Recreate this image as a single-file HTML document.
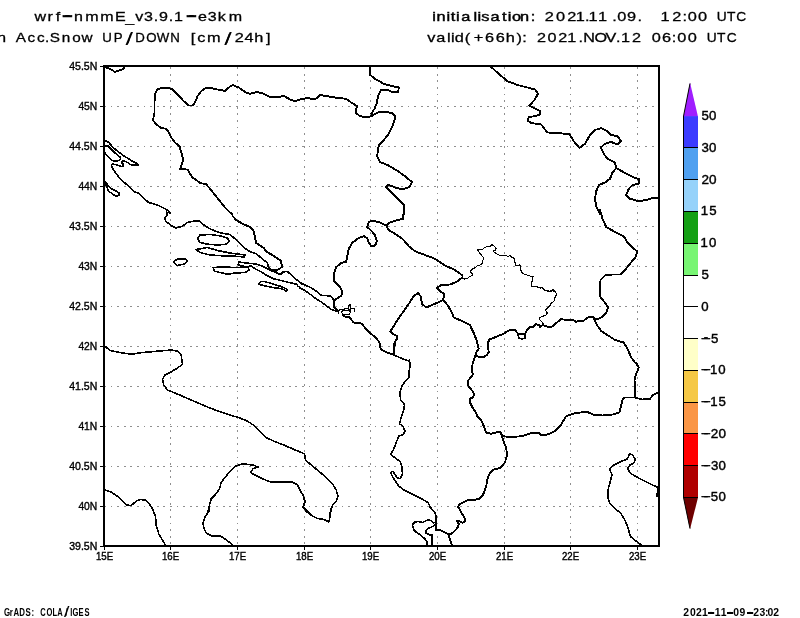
<!DOCTYPE html><html><head><meta charset="utf-8"><title>GrADS</title>
<style>html,body{margin:0;padding:0;background:#fff}svg{display:block}text{font-family:"Liberation Sans","DejaVu Sans",sans-serif;fill:#000}</style></head><body>
<svg width="800" height="618" viewBox="0 0 800 618">
<rect width="800" height="618" fill="#fff"/>
<g stroke="#8f8f8f" stroke-width="1" stroke-dasharray="1.7 4.9" fill="none" shape-rendering="crispEdges">
<line x1="170.5" y1="66.0" x2="170.5" y2="546.0" stroke-dashoffset="-1.2"/>
<line x1="237.5" y1="66.0" x2="237.5" y2="546.0" stroke-dashoffset="-1.2"/>
<line x1="304.5" y1="66.0" x2="304.5" y2="546.0" stroke-dashoffset="-1.2"/>
<line x1="370.5" y1="66.0" x2="370.5" y2="546.0" stroke-dashoffset="-1.2"/>
<line x1="437.5" y1="66.0" x2="437.5" y2="546.0" stroke-dashoffset="-1.2"/>
<line x1="504.5" y1="66.0" x2="504.5" y2="546.0" stroke-dashoffset="-1.2"/>
<line x1="570.5" y1="66.0" x2="570.5" y2="546.0" stroke-dashoffset="-1.2"/>
<line x1="637.5" y1="66.0" x2="637.5" y2="546.0" stroke-dashoffset="-1.2"/>
<line x1="104.0" y1="106.5" x2="659.0" y2="106.5"/>
<line x1="104.0" y1="146.5" x2="659.0" y2="146.5"/>
<line x1="104.0" y1="186.5" x2="659.0" y2="186.5"/>
<line x1="104.0" y1="226.5" x2="659.0" y2="226.5"/>
<line x1="104.0" y1="266.5" x2="659.0" y2="266.5"/>
<line x1="104.0" y1="306.5" x2="659.0" y2="306.5"/>
<line x1="104.0" y1="346.5" x2="659.0" y2="346.5"/>
<line x1="104.0" y1="386.5" x2="659.0" y2="386.5"/>
<line x1="104.0" y1="426.5" x2="659.0" y2="426.5"/>
<line x1="104.0" y1="466.5" x2="659.0" y2="466.5"/>
<line x1="104.0" y1="506.5" x2="659.0" y2="506.5"/>
</g>
<clipPath id="c"><rect x="104.0" y="66.0" width="555.0" height="480.0"/></clipPath>
<g clip-path="url(#c)" stroke="#000" fill="none" stroke-linejoin="round" stroke-linecap="round" shape-rendering="crispEdges">
<path d="M105.0 140.6 L108.8 142.5 L112.5 146.9 L117.5 151.2 L122.5 155.0 L127.5 158.1 L132.5 161.2 L137.5 163.8 L138.5 165.2 L131.2 165.0 L128.1 162.8 L125.0 161.2 L122.5 161.0 L121.5 162.8 L123.5 164.4 L123.1 166.5 L120.0 166.2 L117.5 165.0 L114.4 164.4 L112.5 163.8 L111.5 165.6 L112.5 168.1 L115.0 171.9 L118.1 176.2 L120.6 179.4 L125.0 183.1 L130.0 187.5 L135.0 192.2 L138.8 193.1 L142.5 196.9 L145.6 200.0 L148.8 202.5 L153.8 203.8 L157.5 205.0 L160.6 206.5 L167.5 210.0 L170.0 213.1" stroke-width="1.60"/>
<path d="M105.0 146.2 L107.5 145.6 L110.0 148.1 L113.8 151.9 L117.5 155.0 L120.2 157.2 L120.6 159.4 L118.8 160.6 L115.0 161.2 L112.5 160.6 L109.4 158.1 L106.2 155.0 L105.0 152.5" stroke-width="1.60"/>
<path d="M105.0 181.2 L106.2 183.1 L109.4 186.9 L112.5 189.4 L116.2 191.2 L119.4 193.1 L118.8 195.2 L116.2 196.2 L113.8 195.0 L111.9 193.1 L109.4 191.9 L107.8 189.8 L107.5 187.5 L106.0 185.6 L105.0 185.0" stroke-width="1.60"/>
<path d="M236.2 240.0 L240.0 243.8 L243.1 246.9 L246.9 249.8 L251.2 252.2 L256.2 253.8 L260.0 256.9 L263.8 260.0 L267.5 263.1 L268.1 266.9 L271.2 270.0 L275.0 271.2 L278.8 273.8 L281.2 274.4 L282.5 271.9 L287.5 271.5 L291.9 275.6 L296.9 280.0 L302.5 284.4 L300.0 282.5" stroke-width="1.60"/>
<path d="M255.6 240.0 L256.2 243.1 L260.0 245.6 L263.8 248.1 L266.2 251.5 L271.2 254.4 L276.2 257.5 L280.6 260.6 L281.5 263.8 L281.9 266.9 L278.8 269.4 L275.0 270.0 L271.9 270.0" stroke-width="1.90"/>
<path d="M277.5 273.1 L272.5 271.2 L267.5 268.8 L262.5 266.2 L257.5 264.4 L251.2 263.5 L245.0 262.9 L238.8 261.9 L238.1 264.4 L241.2 266.0 L246.2 266.5 L251.2 266.2 L255.0 268.8 L260.0 271.2 L265.0 274.4 L270.0 276.9 L273.8 278.8 L280.0 280.2 L287.5 282.2 L295.0 283.8 L296.9 284.0 L297.5 286.0 L300.0 287.2" stroke-width="1.60"/>
<path d="M258.8 283.8 L260.6 281.6 L265.0 281.6 L270.0 283.1 L275.0 284.8 L281.2 286.5 L286.2 288.8 L287.5 290.0 L286.2 291.0 L282.5 289.0 L277.5 288.1 L272.5 287.5 L266.2 286.2 L261.2 285.0 L258.8 283.8" stroke-width="1.60"/>
<path d="M300.0 282.5 L305.0 285.0 L311.2 287.8 L316.2 291.2 L321.9 295.6 L326.2 295.6 L330.6 296.0 L332.8 298.8 L334.0 300.6" stroke-width="1.60"/>
<path d="M300.0 288.1 L305.0 290.6 L311.2 295.0 L316.2 298.8 L321.2 301.9 L326.2 305.6 L331.2 309.4 L335.0 310.6 L337.5 311.2" stroke-width="1.60"/>
<path d="M333.8 280.0 L335.0 282.5 L338.8 285.6 L341.2 288.8 L342.5 292.5 L341.2 295.6 L337.5 298.1 L334.0 300.6 L334.0 304.4 L334.4 307.5 L337.5 310.6" stroke-width="1.90"/>
<path d="M337.5 310.6 L338.8 313.8 L338.1 311.2 L340.0 309.4 L345.0 309.0 L348.8 308.1 L348.1 306.2 L350.0 304.4 L350.6 306.9 L350.0 309.4 L347.5 310.6 L343.1 310.6 L341.2 311.9 L343.1 314.4 L346.2 315.0 L349.4 314.0 L350.6 311.9 L349.4 311.2 L350.6 310.0 L351.2 308.1 L354.4 308.1 L355.0 311.9" stroke-width="1.10"/>
<path d="M343.1 315.0 L345.6 316.9 L349.4 316.9 L351.2 319.4 L353.1 321.9 L355.0 323.1 L358.8 322.8 L361.9 323.8 L363.8 326.2 L366.2 329.4 L369.4 332.5 L372.5 335.0 L375.6 337.5 L378.1 340.6 L380.0 343.8 L380.0 347.5 L381.9 350.0 L386.2 352.2 L391.2 353.8 L393.8 355.0" stroke-width="1.90"/>
<path d="M400.0 316.2 L397.5 320.0 L394.4 325.0 L391.9 328.8 L390.0 331.5 L393.1 334.0 L396.9 336.2 L396.9 338.8 L395.0 341.9 L394.0 345.0 L393.5 350.0 L393.8 355.0" stroke-width="1.90"/>
<path d="M394.8 342.5 L394.0 355.0" stroke-width="1.90"/>
<path d="M471.2 328.8 L471.9 330.0 L474.4 334.4 L476.2 339.4 L477.5 343.8 L478.8 348.8 L476.9 351.2 L475.6 354.4 L474.4 358.1 L472.8 363.1 L471.9 367.5 L471.9 371.2 L473.1 374.4 L470.6 377.5 L468.1 380.6 L467.8 385.0 L470.0 388.1 L472.5 391.2 L474.0 394.4 L473.1 397.5 L470.0 398.5 L469.8 401.9 L471.2 405.0 L471.9 407.0" stroke-width="1.90"/>
<path d="M476.2 355.0 L478.8 357.2 L483.8 356.9 L486.9 355.0 L488.8 351.9 L488.1 348.8 L487.5 343.8 L489.4 339.4 L493.8 337.8 L498.8 335.6 L500.0 335.0" stroke-width="1.90"/>
<path d="M403.8 490.0 L410.0 493.1 L416.2 496.2 L422.5 499.4 L428.1 502.5 L430.0 506.9 L433.1 510.6 L435.6 513.8 L436.2 518.8 L436.0 523.8 L436.2 530.0" stroke-width="1.60"/>
<path d="M436.2 530.0 L440.0 530.0 L443.8 531.9 L448.1 534.0 L451.2 534.0 L455.0 530.6 L458.1 526.9 L458.8 523.8 L456.9 521.2 L458.8 520.6 L462.5 522.8 L465.0 521.2 L465.0 518.8 L462.5 514.4 L460.0 510.0 L458.1 506.9 L459.4 504.4 L463.8 501.9 L468.1 500.0 L472.5 500.2 L478.8 499.0 L482.5 495.6 L484.4 491.9 L484.8 490.0" stroke-width="1.90"/>
<path d="M448.1 534.0 L450.0 539.4 L451.9 545.0" stroke-width="1.90"/>
<path d="M433.8 522.8 L431.2 520.6 L428.1 519.8 L425.0 521.2 L422.5 522.5 L418.8 521.5 L415.0 521.9 L413.1 523.8 L412.5 526.2 L414.4 530.6 L417.5 533.1 L421.2 535.6 L425.0 538.8 L426.9 541.9 L427.2 545.0" stroke-width="1.60"/>
<path d="M435.0 525.0 L432.8 526.5 L428.8 528.1 L426.0 530.2 L426.2 533.1 L429.4 534.8 L432.2 535.2 L432.2 540.0 L432.0 545.0" stroke-width="1.60"/>
<path d="M462.5 277.5 L463.8 279.0 L466.9 278.8 L469.4 276.9 L472.5 275.2 L471.9 273.1 L470.0 271.9 L471.9 269.4 L475.0 267.8 L477.5 265.6 L480.6 264.8 L482.5 262.8 L483.1 259.4 L483.1 257.2 L481.2 255.0 L479.4 252.5 L477.5 250.0 L480.0 249.8 L483.1 249.0 L485.0 247.2 L488.1 246.5 L490.6 246.0 L491.9 244.4 L493.8 246.0 L496.2 248.1 L495.6 250.0 L493.8 250.2 L494.0 252.2 L496.9 253.8 L500.0 255.6 L503.1 255.6 L506.2 255.2 L507.5 256.9 L510.0 255.6 L511.9 257.5 L514.0 258.1 L514.8 261.9 L515.6 265.0 L517.8 265.6 L519.8 264.8 L520.6 268.1 L521.2 271.2 L523.1 273.8 L526.2 274.8 L530.0 276.0 L533.1 276.5 L532.5 280.0 L531.5 283.1 L531.0 286.0 L533.8 286.5 L537.5 286.9 L540.0 288.1 L542.5 287.5 L544.0 289.8 L547.5 290.6 L550.0 291.2 L553.1 289.8 L555.6 291.9 L556.5 294.4" stroke-width="1.10"/>
<path d="M543.8 290.0 L547.5 291.2 L550.0 291.9 L552.5 290.6 L555.6 291.9 L556.5 294.4 L555.0 297.5 L554.0 301.2 L551.2 303.1 L550.0 305.6 L547.5 308.1 L545.6 310.0 L547.2 313.1 L545.6 315.6 L542.5 316.2 L540.0 317.5 L539.8 320.0 L541.9 321.9 L543.1 323.8" stroke-width="1.10"/>
<path d="M593.0 317.0 L591.9 316.5 L587.5 317.8 L583.8 320.6 L580.0 320.6 L576.2 321.9 L572.5 319.8 L565.0 319.8 L561.0 319.0 L556.2 323.1 L552.5 326.5 L550.0 327.2 L546.9 326.5 L543.1 325.0 L540.0 326.9 L538.8 325.0 L535.6 324.0 L533.1 326.9 L530.0 327.2 L526.9 330.0 L525.0 333.8 L525.6 338.1 L521.9 338.8 L518.8 338.1 L518.1 333.8 L525.0 333.8 L518.1 333.8 L515.0 330.2 L511.2 329.8 L507.5 331.2 L503.8 333.8 L500.0 335.0" stroke-width="1.90"/>
<path d="M105.0 67.0 L111.2 69.5 L115.0 72.0 L118.8 70.5 L123.8 68.8 L124.2 66.2" stroke-width="1.90"/>
<path d="M300.0 99.5 L294.5 101.2 L290.0 99.5 L283.8 95.8 L278.8 97.0 L270.0 97.0 L263.8 93.8 L257.0 92.0 L250.0 93.8 L245.0 92.0 L238.8 87.5 L232.5 85.0 L228.8 87.5 L225.0 90.8 L217.5 89.5 L211.2 88.0 L205.5 88.0 L201.2 91.2 L197.5 96.2 L195.0 102.5 L192.5 105.5 L188.8 105.5 L183.8 101.2 L177.5 94.5 L172.5 89.5 L168.8 88.0 L161.2 87.8 L157.5 89.5 L155.0 93.8 L154.5 102.5 L154.5 112.5 L153.0 120.0 L155.5 123.8 L161.2 128.0 L166.2 128.8 L168.8 132.5 L171.2 137.5 L175.0 142.5 L179.5 146.2 L181.2 152.5 L183.2 158.8 L182.0 163.8 L180.0 169.2 L187.5 169.5 L190.0 173.8 L193.0 178.0 L196.2 180.0 L200.0 183.0 L206.2 184.2 L210.0 188.8 L215.0 195.0 L220.0 201.2 L225.0 207.5 L230.0 212.5 L232.0 214.0" stroke-width="1.90"/>
<path d="M300.0 99.5 L307.5 98.0 L315.0 99.5 L320.0 95.0 L327.5 96.2 L337.5 98.0 L346.2 98.8 L351.2 102.5 L357.0 106.2 L355.5 112.5 L360.0 116.2 L367.5 117.5 L371.2 116.2 L377.5 112.5 L385.0 112.0 L392.5 113.0 L395.5 117.0 L392.5 126.2 L388.8 133.8 L383.8 140.0 L378.8 145.0 L378.0 151.2 L377.0 156.2 L380.0 162.0 L387.5 165.0 L396.2 170.0 L405.0 176.2 L412.0 182.0 L409.5 187.0 L402.5 189.5 L395.0 187.5 L388.0 184.5 L386.2 187.0 L391.2 192.5 L398.8 200.0 L403.8 205.0 L403.8 214.0" stroke-width="1.90"/>
<path d="M370.0 67.0 L369.5 74.5 L375.0 78.8 L383.8 83.8 L392.5 86.2 L398.8 87.5 L398.2 92.0 L392.5 92.0 L386.2 89.5 L381.2 90.0 L378.0 96.2 L377.0 102.5 L374.5 108.8 L371.2 113.8" stroke-width="1.90"/>
<path d="M491.2 67.0 L500.0 75.0" stroke-width="1.90"/>
<path d="M500.0 75.0 L507.5 81.2 L517.5 85.0 L527.5 87.5 L535.0 89.5 L538.0 93.8 L534.5 100.0 L529.5 105.5 L533.8 108.0 L540.0 111.2 L540.5 114.5 L535.0 116.2 L528.8 117.0 L527.5 120.5 L531.2 123.0 L541.2 124.5 L545.0 129.5 L547.5 132.5 L560.0 133.2 L569.5 134.2 L573.8 141.2 L579.5 148.0 L585.0 143.8 L590.0 135.0 L595.0 130.0 L601.2 128.0 L606.2 130.5 L611.2 135.0 L617.5 136.2 L621.2 141.2 L617.5 144.5 L611.2 142.0 L605.0 143.8 L600.8 147.5 L603.8 153.8 L607.5 158.8 L615.0 162.5 L616.2 168.0" stroke-width="1.90"/>
<path d="M616.2 168.0 L625.0 173.0 L633.8 177.5 L639.5 179.5 L638.8 183.8 L632.5 185.0 L628.8 188.8 L626.2 195.0 L630.0 198.8 L638.8 201.2 L646.2 200.0 L652.5 198.0 L659.0 197.5" stroke-width="1.90"/>
<path d="M616.2 168.0 L612.5 172.5 L610.0 178.8 L605.0 182.5 L598.8 185.0 L596.2 191.2 L595.0 198.8 L596.2 206.2 L598.8 211.2 L600.0 214.0" stroke-width="1.90"/>
<path d="M166.2 210.0 L167.5 214.5 L165.0 217.5 L165.5 221.2 L171.2 225.5 L176.2 228.0 L182.5 226.2 L187.5 222.5 L193.8 221.2 L200.0 221.2 L203.8 225.0 L210.0 228.8 L217.5 232.0 L225.0 233.8 L230.0 234.5 L235.0 238.8 L236.2 240.0" stroke-width="1.60"/>
<path d="M255.5 240.0 L255.0 237.5 L253.8 231.2 L250.0 227.0 L242.5 223.8 L236.2 220.0 L232.5 216.0" stroke-width="1.90"/>
<path d="M197.5 238.8 L200.0 235.0 L210.0 234.5 L220.0 235.8 L227.5 238.2 L229.5 241.2 L226.2 244.2 L217.5 245.0 L207.5 244.2 L200.0 242.5 L197.5 238.8" stroke-width="1.60"/>
<path d="M196.2 249.5 L207.5 247.5 L217.5 250.5 L230.0 253.0 L245.0 255.0 L244.5 257.0 L235.0 256.2 L222.5 255.8 L210.0 255.0 L200.0 252.5 L196.2 249.5" stroke-width="1.60"/>
<path d="M174.2 261.2 L177.5 259.2 L185.0 258.8 L187.5 261.2 L183.8 264.2 L177.5 265.5 L174.2 263.0 L174.2 261.2" stroke-width="1.60"/>
<path d="M213.0 267.5 L222.5 267.0 L235.0 267.5 L247.5 267.0 L249.5 270.0 L245.0 272.5 L235.0 273.0 L227.5 274.2 L220.0 272.5 L214.5 271.2 L213.0 267.5" stroke-width="1.60"/>
<path d="M105.0 346.2 L110.0 350.5 L120.0 352.5 L131.2 354.2 L142.5 352.5 L157.5 351.2 L171.2 350.0 L177.5 351.2 L181.2 355.0 L182.5 364.0" stroke-width="1.60"/>
<path d="M403.8 210.0 L403.0 218.8 L396.2 220.5 L390.0 222.5 L386.2 225.5" stroke-width="1.90"/>
<path d="M334.5 280.0 L333.8 273.8 L336.2 267.0 L341.2 263.0 L346.2 261.8 L347.5 255.0 L348.8 248.8 L352.5 242.5 L358.8 238.0 L363.8 236.2 L367.0 238.0 L368.8 242.5 L371.2 246.2 L375.0 245.5 L377.0 241.2 L375.0 235.0 L371.2 230.5 L367.0 227.0 L368.8 222.5 L371.2 220.5 L380.0 222.5 L386.2 225.5" stroke-width="1.90"/>
<path d="M386.2 225.5 L388.8 230.0 L395.0 233.8 L402.5 238.8 L408.8 246.2 L415.0 251.2 L425.0 255.0 L435.0 258.8 L445.0 265.5 L455.0 270.0 L462.5 275.5 L462.5 277.5" stroke-width="1.90"/>
<path d="M462.5 277.5 L456.2 282.0 L450.0 284.5 L441.2 285.0 L437.0 288.0 L440.0 291.2 L444.5 293.8 L443.0 300.0" stroke-width="1.90"/>
<path d="M443.0 300.0 L435.0 303.8 L426.2 307.5 L422.0 303.8 L420.5 296.2 L418.0 293.0 L413.8 296.2 L408.8 303.8 L403.8 311.2 L400.0 316.2" stroke-width="1.90"/>
<path d="M443.0 300.0 L447.5 305.0 L451.2 311.2 L453.8 317.5 L462.5 321.2 L470.0 325.0 L473.8 332.5" stroke-width="1.90"/>
<path d="M393.8 355.0 L402.5 358.8 L409.5 361.2 L410.0 364.0" stroke-width="1.60"/>
<path d="M600.0 210.0 L602.5 218.8 L606.2 227.0 L615.0 232.0 L623.8 236.2 L627.5 242.5 L632.5 247.5 L637.0 251.2 L636.2 256.2 L630.0 263.8 L625.0 270.0 L620.5 274.5 L612.5 274.5 L605.0 275.5 L600.5 280.0 L600.0 287.5 L600.5 297.5 L605.0 302.5 L608.0 307.5 L606.2 313.0 L601.2 317.5 L596.2 319.5 L593.0 317.0" stroke-width="1.90"/>
<path d="M593.0 317.0 L596.2 323.8 L601.2 331.2 L607.5 335.0 L615.0 340.0 L623.8 342.5 L627.5 348.8 L631.2 357.5 L635.0 362.5 L637.0 364.0" stroke-width="1.90"/>
<path d="M182.5 364.5 L176.2 368.8 L170.0 372.5 L165.0 375.0 L162.5 379.5 L163.8 385.0 L167.5 390.0 L173.8 392.5 L182.5 396.2 L191.2 400.0 L200.0 403.8 L210.0 408.0 L220.0 411.8 L230.0 415.0 L240.0 418.0 L247.5 421.2 L255.0 426.2 L261.2 432.5 L266.2 437.5 L273.8 441.2 L282.5 444.5 L292.5 448.8 L300.0 452.0" stroke-width="1.60"/>
<path d="M300.0 490.0 L297.5 485.0 L292.5 482.0 L280.0 481.8 L270.0 481.8 L262.5 478.8 L255.0 475.0 L250.5 472.5 L253.0 468.8 L258.0 467.0 L253.0 465.0 L242.5 463.8 L236.2 465.8 L230.0 471.2 L225.0 477.5 L221.2 482.5 L219.5 488.8 L215.0 495.0 L211.2 498.8 L209.5 505.0 L207.5 514.0" stroke-width="1.60"/>
<path d="M105.0 490.0 L111.2 492.0 L117.5 496.2 L122.5 501.2 L126.2 505.0 L131.2 505.5 L136.2 501.2 L140.0 499.5 L145.0 500.0 L148.8 503.0 L152.5 508.8 L154.5 514.0" stroke-width="1.60"/>
<path d="M409.5 360.0 L410.0 366.2 L408.8 372.5 L408.8 377.5 L405.0 381.2 L402.0 386.2 L400.0 392.5 L400.5 400.0 L404.5 404.5 L403.8 410.0 L401.2 417.5 L399.5 423.8 L403.0 426.2 L405.0 431.2 L403.0 434.5 L398.8 436.2 L396.2 442.5 L393.8 448.8 L390.8 454.5 L396.2 458.8 L400.0 461.2 L402.0 467.5 L402.5 473.8 L400.0 478.8 L397.0 477.5 L393.0 471.2 L390.5 472.5 L393.8 478.8 L398.8 486.2 L403.8 490.0" stroke-width="1.60"/>
<path d="M471.2 405.0 L475.0 411.2 L478.0 417.5 L481.2 420.0 L483.8 426.2 L486.2 432.5 L491.2 433.8 L496.2 432.5 L500.0 432.0" stroke-width="1.90"/>
<path d="M500.0 468.0 L493.8 469.5 L490.0 472.5 L487.5 478.8 L486.2 486.2 L485.0 490.0" stroke-width="1.90"/>
<path d="M300.0 452.0 L304.5 453.8 L305.5 460.0 L311.2 465.0 L318.8 471.2 L326.2 477.5 L332.5 483.8 L336.2 490.0 L338.0 496.2 L336.2 501.2 L332.5 505.0 L330.0 514.0" stroke-width="1.60"/>
<path d="M300.0 490.0 L303.0 495.0 L305.0 502.5 L303.0 507.5 L307.5 512.5 L309.5 514.0" stroke-width="1.60"/>
<path d="M632.5 360.0 L636.2 363.8 L638.8 367.5 L636.2 373.8 L634.5 380.0 L635.0 390.0 L634.5 397.5" stroke-width="1.90"/>
<path d="M500.0 432.5 L502.5 436.2 L510.0 437.0 L522.5 436.2 L531.2 433.0 L538.8 433.0 L541.2 435.5 L547.5 434.5 L555.0 431.2 L560.0 426.2 L566.2 416.2 L572.5 413.8 L580.0 412.5 L587.5 412.0 L593.8 415.0 L602.5 415.5 L612.5 414.5 L619.5 412.5 L621.2 405.0 L622.5 399.5 L625.0 397.5 L634.5 397.5" stroke-width="1.90"/>
<path d="M634.5 397.5 L642.5 399.5 L650.0 398.8 L653.0 395.0 L657.5 392.5" stroke-width="1.90"/>
<path d="M501.2 432.5 L503.0 440.0 L506.2 447.5 L507.0 455.0 L505.0 462.5 L500.0 468.0" stroke-width="1.90"/>
<path d="M657.0 496.2 L658.0 487.5 L650.0 483.8 L640.0 478.8 L631.2 473.8 L627.5 468.8 L630.0 465.0 L634.5 462.5 L635.0 458.8 L632.5 455.0 L629.5 453.8 L627.5 458.8 L620.0 462.0 L613.8 465.0 L609.5 468.8 L612.0 475.0 L610.0 482.5 L608.0 490.0 L608.0 497.5 L610.0 503.8 L615.0 508.8 L620.0 512.5 L621.2 514.0" stroke-width="1.60"/>
<path d="M153.8 512.8 L154.5 514.0 L155.5 516.5 L156.2 525.2 L158.8 534.0 L162.5 540.2 L165.5 545.2" stroke-width="1.60"/>
<path d="M209.5 506.5 L208.8 511.5 L205.0 516.5 L203.0 522.8 L203.8 527.8 L206.2 532.8 L211.2 535.8 L220.0 535.8 L225.0 539.0 L230.0 542.8 L233.0 545.2" stroke-width="1.60"/>
<path d="M338.0 496.5 L336.2 501.0 L332.5 505.2 L330.5 510.2 L330.0 516.5 L328.8 522.0 L323.8 519.5 L317.5 518.5 L311.2 515.2 L306.2 510.2 L303.0 506.5 L305.0 501.5 L303.0 495.2 L300.0 490.2" stroke-width="1.60"/>
<path d="M621.2 514.0 L625.0 520.2 L628.0 527.8 L630.5 536.5 L635.0 540.2 L640.0 544.0 L641.2 545.2" stroke-width="1.60"/>
<path d="M658.0 496.5 L658.0 487.8" stroke-width="1.60"/>
</g>
<rect x="104.0" y="66.0" width="555.0" height="480.0" fill="none" stroke="#000" stroke-width="2" shape-rendering="crispEdges"/>
<g stroke="#000" stroke-width="1" shape-rendering="crispEdges">
<line x1="100" y1="66.5" x2="103" y2="66.5"/>
<line x1="100" y1="106.5" x2="103" y2="106.5"/>
<line x1="100" y1="146.5" x2="103" y2="146.5"/>
<line x1="100" y1="186.5" x2="103" y2="186.5"/>
<line x1="100" y1="226.5" x2="103" y2="226.5"/>
<line x1="100" y1="266.5" x2="103" y2="266.5"/>
<line x1="100" y1="306.5" x2="103" y2="306.5"/>
<line x1="100" y1="346.5" x2="103" y2="346.5"/>
<line x1="100" y1="386.5" x2="103" y2="386.5"/>
<line x1="100" y1="426.5" x2="103" y2="426.5"/>
<line x1="100" y1="466.5" x2="103" y2="466.5"/>
<line x1="100" y1="506.5" x2="103" y2="506.5"/>
<line x1="100" y1="546.5" x2="103" y2="546.5"/>
<line x1="104.5" y1="547" x2="104.5" y2="550"/>
<line x1="170.5" y1="547" x2="170.5" y2="550"/>
<line x1="237.5" y1="547" x2="237.5" y2="550"/>
<line x1="304.5" y1="547" x2="304.5" y2="550"/>
<line x1="370.5" y1="547" x2="370.5" y2="550"/>
<line x1="437.5" y1="547" x2="437.5" y2="550"/>
<line x1="504.5" y1="547" x2="504.5" y2="550"/>
<line x1="570.5" y1="547" x2="570.5" y2="550"/>
<line x1="637.5" y1="547" x2="637.5" y2="550"/>
</g>
<text x="69.2" y="70.1" font-size="11.6" textLength="28.1" lengthAdjust="spacingAndGlyphs" xml:space="preserve" stroke="#000" stroke-width="0.4">45.5N</text>
<text x="78.4" y="110.1" font-size="11.6" textLength="18.9" lengthAdjust="spacingAndGlyphs" xml:space="preserve" stroke="#000" stroke-width="0.4">45N</text>
<text x="69.2" y="150.1" font-size="11.6" textLength="28.1" lengthAdjust="spacingAndGlyphs" xml:space="preserve" stroke="#000" stroke-width="0.4">44.5N</text>
<text x="78.4" y="190.1" font-size="11.6" textLength="18.9" lengthAdjust="spacingAndGlyphs" xml:space="preserve" stroke="#000" stroke-width="0.4">44N</text>
<text x="69.2" y="230.1" font-size="11.6" textLength="28.1" lengthAdjust="spacingAndGlyphs" xml:space="preserve" stroke="#000" stroke-width="0.4">43.5N</text>
<text x="78.4" y="270.1" font-size="11.6" textLength="18.9" lengthAdjust="spacingAndGlyphs" xml:space="preserve" stroke="#000" stroke-width="0.4">43N</text>
<text x="69.2" y="310.1" font-size="11.6" textLength="28.1" lengthAdjust="spacingAndGlyphs" xml:space="preserve" stroke="#000" stroke-width="0.4">42.5N</text>
<text x="78.4" y="350.1" font-size="11.6" textLength="18.9" lengthAdjust="spacingAndGlyphs" xml:space="preserve" stroke="#000" stroke-width="0.4">42N</text>
<text x="69.2" y="390.1" font-size="11.6" textLength="28.1" lengthAdjust="spacingAndGlyphs" xml:space="preserve" stroke="#000" stroke-width="0.4">41.5N</text>
<text x="78.4" y="430.1" font-size="11.6" textLength="18.9" lengthAdjust="spacingAndGlyphs" xml:space="preserve" stroke="#000" stroke-width="0.4">41N</text>
<text x="69.2" y="470.1" font-size="11.6" textLength="28.1" lengthAdjust="spacingAndGlyphs" xml:space="preserve" stroke="#000" stroke-width="0.4">40.5N</text>
<text x="78.4" y="510.1" font-size="11.6" textLength="18.9" lengthAdjust="spacingAndGlyphs" xml:space="preserve" stroke="#000" stroke-width="0.4">40N</text>
<text x="69.2" y="550.1" font-size="11.6" textLength="28.1" lengthAdjust="spacingAndGlyphs" xml:space="preserve" stroke="#000" stroke-width="0.4">39.5N</text>
<text x="95.9" y="559.7" font-size="11.4" textLength="17.2" lengthAdjust="spacingAndGlyphs" xml:space="preserve" stroke="#000" stroke-width="0.4">15E</text>
<text x="161.9" y="559.7" font-size="11.4" textLength="17.2" lengthAdjust="spacingAndGlyphs" xml:space="preserve" stroke="#000" stroke-width="0.4">16E</text>
<text x="228.9" y="559.7" font-size="11.4" textLength="17.2" lengthAdjust="spacingAndGlyphs" xml:space="preserve" stroke="#000" stroke-width="0.4">17E</text>
<text x="295.9" y="559.7" font-size="11.4" textLength="17.2" lengthAdjust="spacingAndGlyphs" xml:space="preserve" stroke="#000" stroke-width="0.4">18E</text>
<text x="361.9" y="559.7" font-size="11.4" textLength="17.2" lengthAdjust="spacingAndGlyphs" xml:space="preserve" stroke="#000" stroke-width="0.4">19E</text>
<text x="428.9" y="559.7" font-size="11.4" textLength="17.2" lengthAdjust="spacingAndGlyphs" xml:space="preserve" stroke="#000" stroke-width="0.4">20E</text>
<text x="495.9" y="559.7" font-size="11.4" textLength="17.2" lengthAdjust="spacingAndGlyphs" xml:space="preserve" stroke="#000" stroke-width="0.4">21E</text>
<text x="561.9" y="559.7" font-size="11.4" textLength="17.2" lengthAdjust="spacingAndGlyphs" xml:space="preserve" stroke="#000" stroke-width="0.4">22E</text>
<text x="628.9" y="559.7" font-size="11.4" textLength="17.2" lengthAdjust="spacingAndGlyphs" xml:space="preserve" stroke="#000" stroke-width="0.4">23E</text>
<polygon points="683.5,116.7 690.0,82.6 698.0,116.7" fill="#a01eff"/>
<rect x="683.5" y="116.16" width="14.5" height="31.98" fill="#3c3cff"/>
<rect x="683.5" y="147.94" width="14.5" height="31.98" fill="#50a0f0"/>
<rect x="683.5" y="179.72" width="14.5" height="31.98" fill="#96d2fa"/>
<rect x="683.5" y="211.50" width="14.5" height="31.98" fill="#14a014"/>
<rect x="683.5" y="243.28" width="14.5" height="31.98" fill="#78f573"/>
<rect x="683.5" y="275.06" width="14.5" height="31.98" fill="#ffffff"/>
<rect x="683.5" y="306.84" width="14.5" height="31.98" fill="#ffffff"/>
<rect x="683.5" y="338.62" width="14.5" height="31.98" fill="#ffffc8"/>
<rect x="683.5" y="370.40" width="14.5" height="31.98" fill="#f5c846"/>
<rect x="683.5" y="402.18" width="14.5" height="31.98" fill="#fa9646"/>
<rect x="683.5" y="433.96" width="14.5" height="31.98" fill="#ff0000"/>
<rect x="683.5" y="465.74" width="14.5" height="31.98" fill="#af0000"/>
<polygon points="683.5,497.5 690.0,529.2 698.0,497.5" fill="#6e0000"/>
<g stroke="#000" stroke-width="1">
<line x1="683.5" y1="116.2" x2="690" y2="83.5"/>
<line x1="683.5" y1="497.5" x2="690" y2="528.5"/>
</g>
<g stroke="#000" stroke-width="1" shape-rendering="crispEdges">
<line x1="683.5" y1="116.2" x2="683.5" y2="497.5"/>
<line x1="683.5" y1="147.94" x2="698.0" y2="147.94"/>
<line x1="683.5" y1="179.72" x2="698.0" y2="179.72"/>
<line x1="683.5" y1="211.50" x2="698.0" y2="211.50"/>
<line x1="683.5" y1="243.28" x2="698.0" y2="243.28"/>
<line x1="683.5" y1="275.06" x2="698.0" y2="275.06"/>
<line x1="683.5" y1="306.84" x2="698.0" y2="306.84"/>
<line x1="683.5" y1="338.62" x2="698.0" y2="338.62"/>
<line x1="683.5" y1="370.40" x2="698.0" y2="370.40"/>
<line x1="683.5" y1="402.18" x2="698.0" y2="402.18"/>
<line x1="683.5" y1="433.96" x2="698.0" y2="433.96"/>
<line x1="683.5" y1="465.74" x2="698.0" y2="465.74"/>
<line x1="683.5" y1="497.52" x2="698.0" y2="497.52"/>
</g>
<text transform="scale(1.067,1)" x="657.46 664.52" y="120.2 120.2" font-size="12.4" stroke="#000" stroke-width="0.4">50</text>
<text transform="scale(1.067,1)" x="657.49 664.52" y="151.9 151.9" font-size="12.4" stroke="#000" stroke-width="0.4">30</text>
<text transform="scale(1.090,1)" x="643.58 650.50" y="183.7 183.7" font-size="12.4" stroke="#000" stroke-width="0.4">20</text>
<text transform="scale(1.070,1)" x="654.99 662.78" y="215.5 215.5" font-size="12.4" stroke="#000" stroke-width="0.4">15</text>
<text transform="scale(1.064,1)" x="658.46 666.27" y="247.3 247.3" font-size="12.4" stroke="#000" stroke-width="0.4">10</text>
<text transform="scale(1.070,1)" x="655.72" y="279.1" font-size="12.4" stroke="#000" stroke-width="0.4">5</text>
<text transform="scale(1.064,1)" x="659.18" y="310.8" font-size="12.4" stroke="#000" stroke-width="0.4">0</text>
<text transform="scale(1.070,1)" x="657.81 664.47" y="341.5 342.6" font-size="12.4" stroke="#000" stroke-width="0.4">-5</text>
<text transform="scale(1.064,1)" x="661.28 667.25 675.06" y="373.3 374.4 374.4" font-size="12.4" stroke="#000" stroke-width="0.4">-10</text>
<text transform="scale(1.070,1)" x="657.81 663.73 671.52" y="405.1 406.2 406.2" font-size="12.4" stroke="#000" stroke-width="0.4">-15</text>
<text transform="scale(1.090,1)" x="645.65 652.16 659.08" y="436.9 438.0 438.0" font-size="12.4" stroke="#000" stroke-width="0.4">-20</text>
<text transform="scale(1.067,1)" x="659.54 666.25 673.29" y="468.6 469.7 469.7" font-size="12.4" stroke="#000" stroke-width="0.4">-30</text>
<text transform="scale(1.067,1)" x="659.54 666.22 673.29" y="500.4 501.5 501.5" font-size="12.4" stroke="#000" stroke-width="0.4">-50</text>
<text transform="scale(1.181,1)" x="29.21 40.16 47.21 54.92 62.60 72.25 85.00 97.43 106.11 114.60 122.01 130.20 134.67 142.91 147.37 159.87 167.76 175.89 184.37 193.73" y="20.7 20.7 20.7 19.3 20.7 20.7 20.7 20.7 21.7 20.7 20.7 20.7 20.7 20.7 20.7 19.3 20.7 20.7 20.7 20.7" font-size="13.6" stroke="#000" stroke-width="0.3">wrf-nmmE_v3.9.1-e3km</text>
<text transform="scale(1.200,1)" x="-2.60" y="42.5" font-size="13.6" stroke="#000" stroke-width="0.3">n</text>
<text transform="scale(1.124,1)" x="14.07 24.51 32.96 40.07 44.37 55.02 64.29 72.62" y="42.5 42.5 42.5 42.5 42.5 42.5 42.5 42.5" font-size="13.6" stroke="#000" stroke-width="0.3">Acc.Snow</text>
<text transform="scale(0.976,1)" x="104.76 116.59 130.61 138.58 149.97 160.54 174.39" y="42.5 42.5 43.3 42.5 42.5 42.5 42.5" font-size="13.6" stroke="#000" stroke-width="0.3">UP/DOWN</text>
<text transform="scale(1.200,1)" x="158.88 164.41 172.49 188.07 195.64 203.82 211.86 221.70" y="42.5 42.5 42.5 43.3 42.5 42.5 42.5 42.5" font-size="13.6" stroke="#000" stroke-width="0.3">[cm/24h]</text>
<text transform="scale(1.200,1)" x="360.20 363.81 372.20 375.65 380.03 384.40 394.61 398.03 401.11 408.81 418.40 423.24 426.67 433.40 442.22" y="20.6 20.6 20.6 20.6 20.6 20.6 20.6 20.6 20.6 20.6 20.6 20.6 20.6 20.6 20.6" font-size="13.6" stroke="#000" stroke-width="0.45">initialisation:</text>
<text transform="scale(1.200,1)" x="453.98 463.29 472.73 479.71 487.47 490.33 498.25 510.30 514.33 522.50 531.18" y="20.6 20.6 20.6 20.6 20.6 20.6 20.6 20.6 20.6 20.6 20.6" font-size="13.6" stroke="#000" stroke-width="0.3">2021.11.09.</text>
<text transform="scale(1.200,1)" x="550.33 560.23 568.68 573.08 581.75" y="20.6 20.6 20.6 20.6 20.6" font-size="13.6" stroke="#000" stroke-width="0.3">12:00</text>
<text transform="scale(1.014,1)" x="706.90 717.01 726.03" y="20.6 20.6 20.6" font-size="13.6" stroke="#000" stroke-width="0.3">UTC</text>
<text transform="scale(1.200,1)" x="356.02 363.52 372.61 375.86 378.90 387.20 394.71 404.22 413.09 421.36 430.49 435.14" y="42.5 42.5 42.5 42.5 42.5 42.5 42.5 42.5 42.5 42.5 42.5 42.5" font-size="13.6" stroke="#000" stroke-width="0.3">valid(+66h):</text>
<text transform="scale(1.191,1)" x="450.98 459.73 468.82 476.35 485.79 489.79 499.09 508.44 517.19 521.38 530.72" y="42.5 42.5 42.5 42.5 42.5 42.5 42.5 42.5 42.5 42.5 42.5" font-size="13.6" stroke="#000" stroke-width="0.3">2021.NOV.12</text>
<text transform="scale(1.200,1)" x="543.08 551.63 559.72 564.33 573.08" y="42.5 42.5 42.5 42.5 42.5" font-size="13.6" stroke="#000" stroke-width="0.3">06:00</text>
<text transform="scale(1.014,1)" x="697.04 707.15 716.67" y="42.5 42.5 42.5" font-size="13.6" stroke="#000" stroke-width="0.3">UTC</text>
<text transform="scale(0.695,1)" x="5.66 14.13 19.31 27.72 36.72 45.24" y="615.6 615.6 615.6 615.6 615.6 615.6" font-size="11.3" font-weight="bold">GrADS:</text>
<text transform="scale(0.669,1)" x="60.23 69.56 78.35 85.55 97.91 105.01 108.51 117.51 126.39" y="615.6 615.6 615.6 615.6 616.1 615.6 615.6 615.6 615.6" font-size="11.3" font-weight="bold">COLA/IGES</text>
<text transform="scale(0.920,1)" x="742.63 750.04 756.59 763.00 770.86 776.80 783.32 791.51 796.93 803.73 813.24 818.70 825.53 831.61 834.15 840.43" y="615.6 615.6 615.6 615.6 614.7 615.6 615.6 614.7 615.6 615.6 614.7 615.6 615.6 615.6 615.6 615.6" font-size="11.3" font-weight="bold">2021-11-09-23:02</text>
<text aria-hidden="true" x="700.45" y="341.5" font-size="12.4" textLength="10.71" lengthAdjust="spacingAndGlyphs" stroke="#000" stroke-width="0.4">-</text>
<text aria-hidden="true" x="700.45" y="373.3" font-size="12.4" textLength="10.71" lengthAdjust="spacingAndGlyphs" stroke="#000" stroke-width="0.4">-</text>
<text aria-hidden="true" x="700.45" y="405.1" font-size="12.4" textLength="10.71" lengthAdjust="spacingAndGlyphs" stroke="#000" stroke-width="0.4">-</text>
<text aria-hidden="true" x="700.45" y="436.9" font-size="12.4" textLength="10.71" lengthAdjust="spacingAndGlyphs" stroke="#000" stroke-width="0.4">-</text>
<text aria-hidden="true" x="700.45" y="468.6" font-size="12.4" textLength="10.71" lengthAdjust="spacingAndGlyphs" stroke="#000" stroke-width="0.4">-</text>
<text aria-hidden="true" x="700.45" y="500.4" font-size="12.4" textLength="10.71" lengthAdjust="spacingAndGlyphs" stroke="#000" stroke-width="0.4">-</text>
<text aria-hidden="true" x="61.33" y="21.9" font-size="22" textLength="12.36" lengthAdjust="spacingAndGlyphs" stroke="#000" stroke-width="0.3">-</text>
<text aria-hidden="true" x="185.23" y="21.9" font-size="22" textLength="12.36" lengthAdjust="spacingAndGlyphs" stroke="#000" stroke-width="0.3">-</text>
<text aria-hidden="true" x="125.60" y="45.1" font-size="19" textLength="7.51" lengthAdjust="spacingAndGlyphs" >/</text>
<text aria-hidden="true" x="224.20" y="45.1" font-size="19" textLength="7.51" lengthAdjust="spacingAndGlyphs" >/</text>
<text aria-hidden="true" x="63.90" y="617.1" font-size="14" textLength="5.41" lengthAdjust="spacingAndGlyphs" >/</text>
<text aria-hidden="true" x="707.02" y="616.6" font-size="17" textLength="8.18" lengthAdjust="spacingAndGlyphs" font-weight="bold">-</text>
<text aria-hidden="true" x="726.02" y="616.6" font-size="17" textLength="8.18" lengthAdjust="spacingAndGlyphs" font-weight="bold">-</text>
<text aria-hidden="true" x="746.02" y="616.6" font-size="17" textLength="8.18" lengthAdjust="spacingAndGlyphs" font-weight="bold">-</text>
</svg></body></html>
